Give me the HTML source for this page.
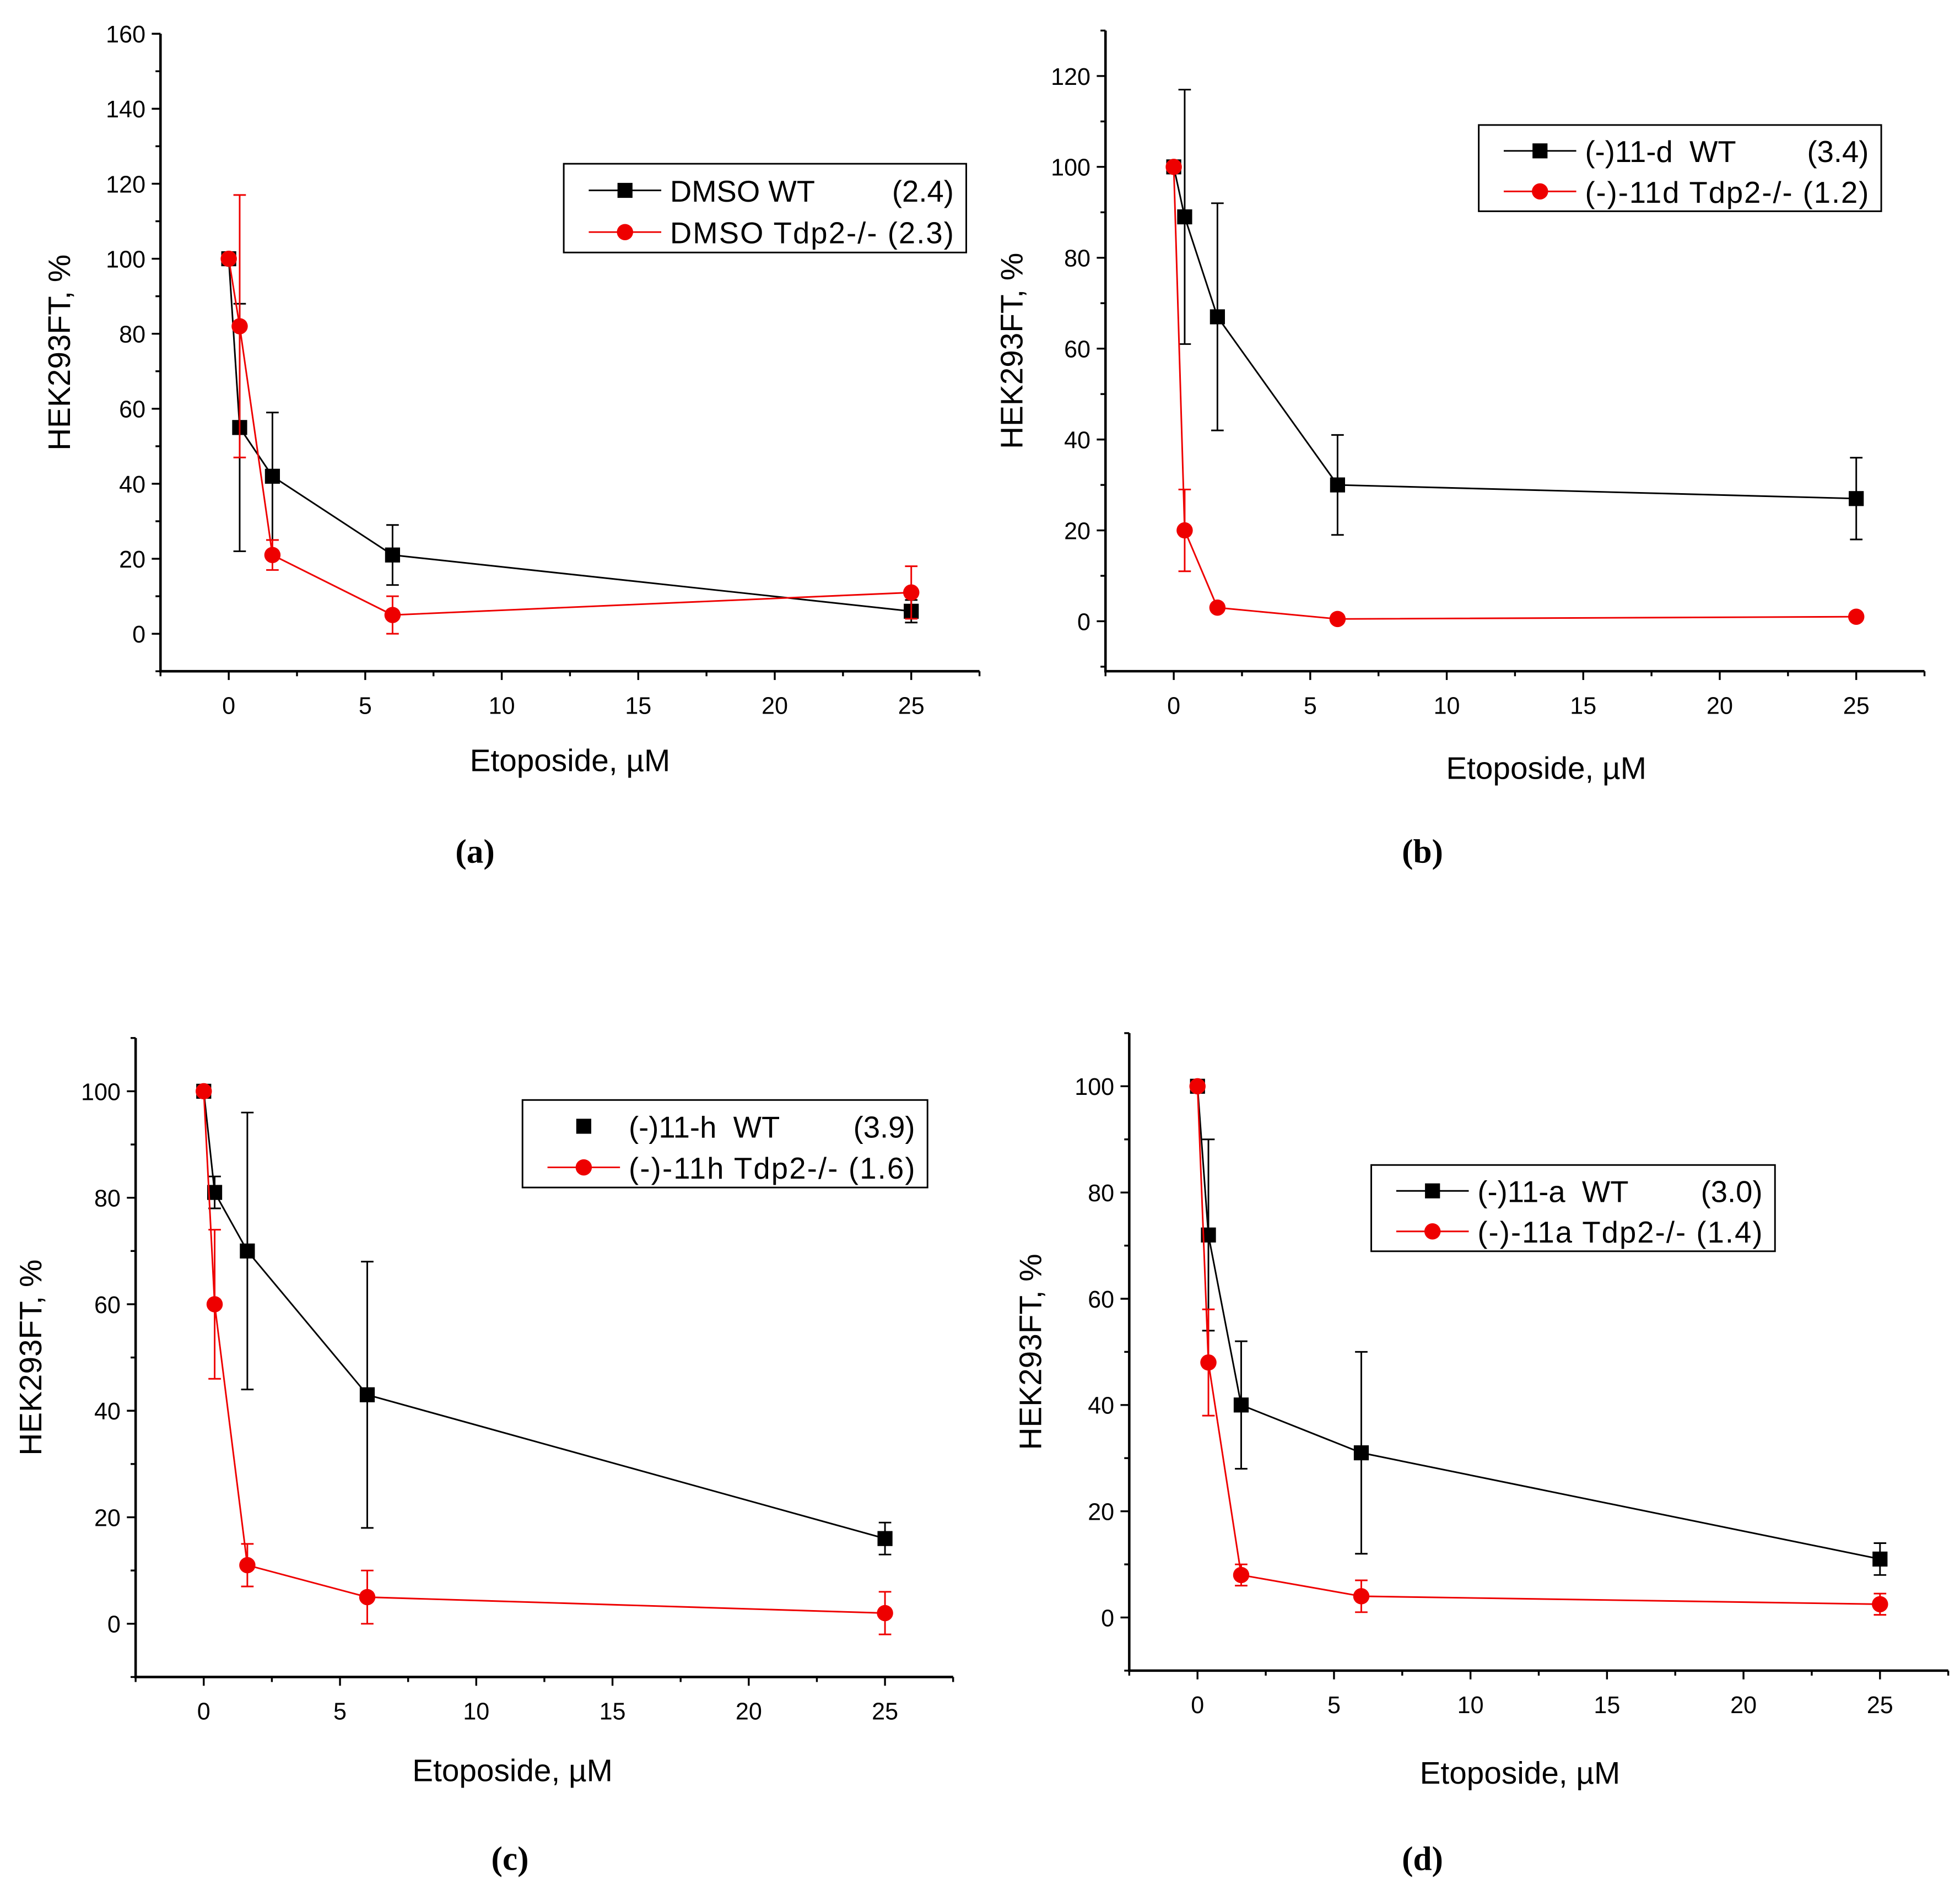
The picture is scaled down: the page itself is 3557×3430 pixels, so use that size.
<!DOCTYPE html>
<html><head><meta charset="utf-8"><style>
html,body{margin:0;padding:0;background:#fff}
svg{display:block}
text{font-family:"Liberation Sans",Arial,sans-serif}
.cap{font-family:"Liberation Serif",serif;font-weight:bold}
</style></head><body>
<svg id="fig" width="3557" height="3430" viewBox="0 0 1568 1512" preserveAspectRatio="none" xmlns="http://www.w3.org/2000/svg"></svg>
<script>
const xVals=[0,0.4,1.6,6,25];
const xTicks=[0,5,10,15,20,25];
const aWT=[100,55,42,21,6], aWTerr=[0,33,17,8,3];
const aKO=[100,82,21,5,11], aKOerr=[0,35,4,5,7];
const aYTicks=[0,20,40,60,80,100,120,140,160];
const bWT=[100,89,67,30,27], bWTerr=[0,28,25,11,9];
const bKO=[100,20,3,0.5,1], bKOerr=[0,9,0,0,0];
const bYTicks=[0,20,40,60,80,100,120];
const cWT=[100,81,70,43,16], cWTerr=[0,3,26,25,3];
const cKO=[100,60,11,5,2], cKOerr=[0,14,4,5,4];
const cYTicks=[0,20,40,60,80,100];
const dWT=[100,72,40,31,11], dWTerr=[0,18,12,19,3];
const dKO=[100,48,8,4,2.5], dKOerr=[0,10,2,3,2];
const dYTicks=[0,20,40,60,80,100];

const NS="http://www.w3.org/2000/svg";
const fig=document.getElementById('fig');
function el(tag,attrs,parent,txt){const e=document.createElementNS(NS,tag);for(const k in attrs)e.setAttribute(k,attrs[k]);if(txt!==undefined)e.textContent=txt;(parent||fig).appendChild(e);return e;}

function panel(p){
  const g=el('g',{});
  
  
  const X=v=>p.x0+(v)*(p.x25-p.x0)/25;
  const Y=v=>p.y0-(v)*(p.y0-p.y100)/100;
  const xl=X(-2.5), xr=X(27.5), yb=Y(p.ymin), yt=Y(p.ymax);
  const ax=el('g',{},g);
  
  
  el('line',{x1:xl,y1:yt,x2:xl,y2:yb+1,stroke:'#000','stroke-width':2},ax);
  el('line',{x1:xl-1,y1:yb,x2:xr,y2:yb,stroke:'#000','stroke-width':2},ax);
  for(let v=Math.ceil(p.ymin/10)*10; v<=p.ymax; v+=10){
    const major=p.yTicks.includes(v);
    el('line',{x1:xl,y1:Y(v),x2:xl-(major?7:4),y2:Y(v),stroke:'#000','stroke-width':1.5},ax);
  }
  p.yTicks.forEach(v=>{const t=el('text',{x:xl-12,y:Y(v)+7,'text-anchor':'end','font-size':19},ax,String(v));
    });
  for(let v=-2.5; v<=27.5; v+=2.5){
    const major=Math.abs(v%5)<1e-9;
    el('line',{x1:X(v),y1:yb,x2:X(v),y2:yb+(major?7:4),stroke:'#000','stroke-width':1.5},ax);
  }
  xTicks.forEach(v=>{const t=el('text',{x:X(v),y:yb+34,'text-anchor':'middle','font-size':19},ax,String(v));
    });
  const yt2=el('text',{x:0,y:0,'text-anchor':'middle','font-size':25,transform:`translate(${p.ytx},${(yt+yb)/2+p.ytoff}) rotate(-90)`},g,'HEK293FT, %');
  
  const xt=el('text',{x:p.xtx,y:p.xty,'text-anchor':'middle','font-size':25},g,'Etoposide, \u00B5M');
  
  const cp=el('text',{x:p.capx,y:p.capy,'text-anchor':'middle','font-size':27,class:'cap'},g,'('+p.id+')');
  
  function series(vals,errs,color,shape,name){
    const s=el('g',{},g);
    
    
    el('polyline',{points:vals.map((v,i)=>X(xVals[i])+','+Y(v)).join(' '),fill:'none',stroke:color,'stroke-width':1.3},s);
    vals.forEach((v,i)=>{
      const e=errs[i]; if(e>0){const x=X(xVals[i]);
        el('line',{x1:x,y1:Y(v+e),x2:x,y2:Y(v-e),stroke:color,'stroke-width':1.3},s);
        el('line',{x1:x-5,y1:Y(v+e),x2:x+5,y2:Y(v+e),stroke:color,'stroke-width':1.3},s);
        el('line',{x1:x-5,y1:Y(v-e),x2:x+5,y2:Y(v-e),stroke:color,'stroke-width':1.3},s);}
    });
    vals.forEach((v,i)=>{
      const x=X(xVals[i]),y=Y(v);
      const m=shape==='sq'?el('rect',{x:x-6,y:y-6,width:12,height:12,fill:color},s):el('circle',{cx:x,cy:y,r:6.5,fill:color},s);
      
    });
  }
  series(p.wt,p.wtErr,'#000','sq','series-wt');
  series(p.ko,p.koErr,'#e00','ci','series-tdp2');
  const L=el('g',{},g);
  
  
  el('rect',{x:p.lx,y:p.ly,width:p.lw,height:p.lh,fill:'#fff',stroke:'#000','stroke-width':1.3},L);
  const r1=p.ly+p.lh*0.3, r2=p.ly+p.lh*0.77;
  if(!p.noWTline) el('line',{x1:p.lx+20,y1:r1,x2:p.lx+78,y2:r1,stroke:'#000','stroke-width':1.3},L);
  el('rect',{x:p.lx+43,y:r1-6,width:12,height:12,fill:'#000'},L);
  el('line',{x1:p.lx+20,y1:r2,x2:p.lx+78,y2:r2,stroke:'#e00','stroke-width':1.3},L);
  el('circle',{cx:p.lx+49,cy:r2,r:6.5,fill:'#e00'},L);
  const t1=el('text',{x:p.lx+85,y:r1+9,'font-size':24,style:'white-space:pre'},L,p.l1);
  
  el('text',{x:p.lx+p.lw-10,y:r1+9,'font-size':24,'text-anchor':'end'},L,p.l1v);
  const t2=el('text',{x:p.lx+85,y:r2+9,'font-size':24,textLength:p.lw-95,lengthAdjust:'spacing'},L,p.l2);
  
}

panel({id:'a',x0:183,x25:729,y0:507,y100:207,ymin:-10,ymax:160,yTicks:aYTicks,wt:aWT,wtErr:aWTerr,ko:aKO,koErr:aKOerr,
  ytx:56,ytoff:0,xtx:456,xty:617,capx:380,capy:690,lx:451,ly:131,lw:322,lh:71,l1:'DMSO WT',l1v:'(2.4)',l2:'DMSO Tdp2-/- (2.3)'});
panel({id:'b',x0:939,x25:1485,y0:497,y100:133.5,ymin:-11,ymax:130,yTicks:bYTicks,wt:bWT,wtErr:bWTerr,ko:bKO,koErr:bKOerr,
  ytx:818,ytoff:0,xtx:1237,xty:623,capx:1138,capy:690,lx:1183,ly:100,lw:322,lh:69,l1:'(-)11-d  WT',l1v:'(3.4)',l2:'(-)-11d Tdp2-/- (1.2)'});
panel({id:'c',x0:163,x25:708,y0:1299,y100:873,ymin:-10,ymax:110,yTicks:cYTicks,wt:cWT,wtErr:cWTerr,ko:cKO,koErr:cKOerr,
  ytx:33,ytoff:0,xtx:410,xty:1425,capx:408,capy:1496,lx:418,ly:880,lw:324,lh:70,l1:'(-)11-h  WT',l1v:'(3.9)',l2:'(-)-11h Tdp2-/- (1.6)',noWTline:true});
panel({id:'d',x0:958,x25:1504,y0:1294,y100:869,ymin:-10,ymax:110,yTicks:dYTicks,wt:dWT,wtErr:dWTerr,ko:dKO,koErr:dKOerr,
  ytx:833,ytoff:0,xtx:1216,xty:1427,capx:1138,capy:1496,lx:1097,ly:932,lw:323,lh:69,l1:'(-)11-a  WT',l1v:'(3.0)',l2:'(-)-11a Tdp2-/- (1.4)'});
</script>
</body></html>
